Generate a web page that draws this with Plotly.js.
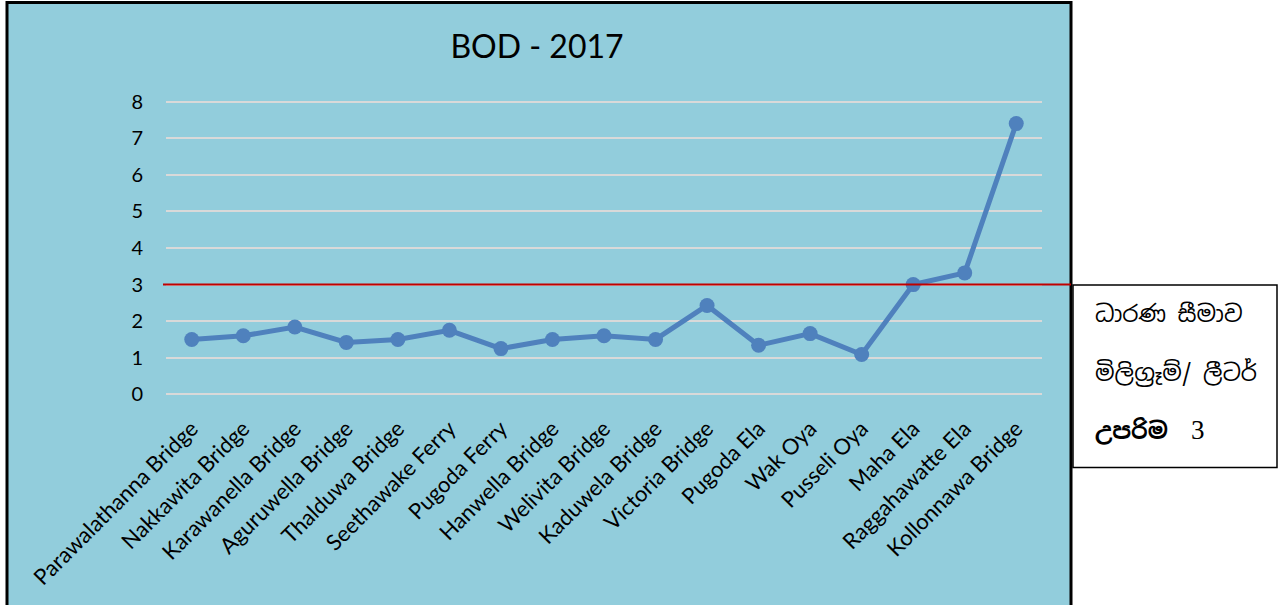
<!DOCTYPE html>
<html>
<head>
<meta charset="utf-8">
<script src="https://cdn.plot.ly/plotly-3.0.1.min.js"></script>
<style>
html,body{margin:0;padding:0;background:#fff;}
#chart{width:1284px;height:605px;}
</style>
</head>
<body>
<div id="chart"></div>
<script>
// ---- data ----
const sites = [
  "Parawalathanna Bridge","Nakkawita Bridge","Karawanella Bridge","Aguruwella Bridge",
  "Thalduwa Bridge","Seethawake Ferry","Pugoda Ferry","Hanwella Bridge","Welivita Bridge",
  "Kaduwela Bridge","Victoria Bridge","Pugoda Ela","Wak Oya","Pusseli Oya","Maha Ela",
  "Raggahawatte Ela","Kollonnawa Bridge"
];
const bod2017 = [1.5,1.6,1.84,1.42,1.5,1.75,1.25,1.5,1.6,1.5,2.43,1.34,1.66,1.09,3.0,3.32,7.4];
const yTicks = [0,1,2,3,4,5,6,7,8];
const limitValue = 3;
const chartTitle = "BOD - 2017";
const noteLines = [
  "ධාරණ සීමාව",
  "මිලිග්‍රෑම්/ ලීටර්",
  "<b>උපරිම</b>  <span style='font-family:Liberation Serif;font-size:27px'>3</span>"
];

// ---- geometry helpers (pixel -> paper) ----
const W = 1284, H = 605;
const mL = 166, mR = 242, mT = 98.35, mB = 207.35;
const pw = W - mL - mR, ph = H - mT - mB;
const px = x => (x - mL) / pw;
const py = y => (H - mB - y) / ph;

const trace = {
  x: sites,
  y: bod2017,
  type: 'scatter',
  mode: 'lines+markers',
  line: {color: '#4F81BD', width: 5},
  marker: {color: '#4F81BD', size: 15},
  hoverinfo: 'x+y'
};

const font = "Lato, 'Open Sans', sans-serif";

const layout = {
  width: W, height: H,
  margin: {l: mL, r: mR, t: mT, b: mB},
  paper_bgcolor: '#ffffff',
  plot_bgcolor: 'rgba(0,0,0,0)',
  showlegend: false,
  title: {
    text: chartTitle,
    font: {family: font, size: 32, color: '#000'},
    x: 537 / W, xanchor: 'center',
    y: 1 - 47 / H, yanchor: 'middle'
  },
  xaxis: {
    type: 'category',
    range: [-0.5, sites.length - 0.5],
    tickangle: -45,
    tickfont: {family: font, size: 22, color: '#000'},
    showgrid: false, zeroline: false, showline: false,
    ticks: 'outside', ticklen: 8, tickcolor: 'rgba(0,0,0,0)'
  },
  yaxis: {
    range: [-0.1, 8.1],
    tickvals: yTicks,
    ticktext: yTicks.map(String),
    tickfont: {family: font, size: 20, color: '#000'},
    showgrid: true, gridcolor: '#D9D9D9', gridwidth: 2,
    zeroline: false, showline: false,
    ticks: 'outside', ticklen: 18, tickcolor: 'rgba(0,0,0,0)'
  },
  shapes: [
    // chart area box
    {type: 'rect', xref: 'paper', yref: 'paper', layer: 'below',
     x0: px(7), x1: px(1071), y0: py(615), y1: py(3),
     fillcolor: '#92CDDC', line: {color: '#000', width: 3}},
    // limit line
    {type: 'line', xref: 'paper', yref: 'y', layer: 'above',
     x0: px(163), x1: px(1071), y0: limitValue, y1: limitValue,
     line: {color: '#C00000', width: 2}},
    // note box
    {type: 'rect', xref: 'paper', yref: 'paper', layer: 'above',
     x0: px(1073), x1: px(1277), y0: py(467), y1: py(285),
     fillcolor: '#ffffff', line: {color: '#000', width: 1.5}}
  ],
  annotations: noteLines.map((t, i) => ({
    text: t, xref: 'paper', yref: 'paper',
    x: px(1093), y: py(314 + i * 58),
    xanchor: 'left', yanchor: 'middle', showarrow: false,
    font: {family: "'Noto Sans Sinhala', 'Noto Sans', 'DejaVu Sans', sans-serif", size: 23, color: '#000'}
  }))
};

Plotly.newPlot('chart', [trace], layout, {displayModeBar: false, staticPlot: true});
</script>
</body>
</html>
